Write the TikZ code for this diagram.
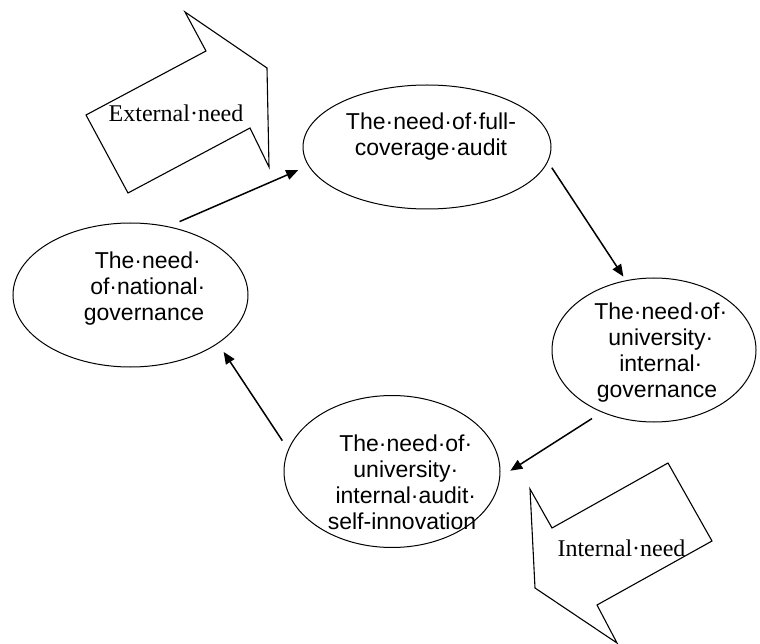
\documentclass[tikz,border=0pt]{standalone}
\usepackage{fontspec}
\setmainfont{Liberation Serif}
\newfontfamily\arialfont{Liberation Sans}
\usetikzlibrary{arrows.meta,shapes.geometric}

% trailing space mark, kept out of the centring
\newcommand{\tdot}{\rlap{·}}

\begin{document}
\begin{tikzpicture}[x=1pt, y=-1pt, >={Triangle[length=12pt,width=10pt]},
    need/.style={ellipse, draw, line width=1pt, inner sep=0pt},
    needtext/.style={align=center, font=\arialfont\fontsize{23}{26}\selectfont},
    flow/.style={->, line width=1.5pt},
    bigarrow/.style={draw, line width=1.1pt, line join=miter},
    bigtext/.style={anchor=base, font=\fontsize{24}{28}\selectfont}]
    \useasboundingbox (0,0) rectangle (760,644);

    % the four needs
    \node [need, minimum width=235pt, minimum height=144pt] (nat) at (130.5, 295) {};
    \node [need, minimum width=248pt, minimum height=124pt] (full) at (427, 147) {};
    \node [need, minimum width=204pt, minimum height=144pt] (univ) at (654, 350) {};
    \node [need, minimum width=216pt, minimum height=152pt] (audit) at (392, 471.5) {};

    \node [needtext] (natText) at (144, 288.7) {The·need\tdot\\of·national\tdot\\governance};
    \node [needtext] (fullText) at (431, 136.7) {The·need·of·full-\\coverage·audit};
    \node [needtext] (univText) at (657, 353) {The·need·of\tdot\\university\tdot\\internal\tdot\\governance};
    \node [needtext] (auditText) at (402, 482) {The·need·of\tdot\\university\tdot\\internal·audit\tdot\\self-innovation};

    % the cycle
    \draw [flow, shorten <=12pt, shorten >=11pt] (nat.61) -- (full.189);
    \draw [flow, shorten <=7pt, shorten >=4.5pt] (full.-7) -- (univ.112);
    \draw [flow, shorten <=11.5pt, shorten >=12pt] (univ.230) -- (audit.-3);
    \draw [flow, shorten <=10.5pt, shorten >=10pt] (audit.168) -- (nat.-29);

    % external and internal push
    \draw [bigarrow] (86,115) -- (206,51) -- (185,12) -- (267,68) -- (269,167) -- (250,128) -- (128,193) -- cycle;
    \node [bigtext] (extText) at (176, 121.7) {External·need};
    \draw [bigarrow] (668,463) -- (712,541) -- (597,605) -- (617,643) -- (535,588) -- (530,489) -- (552,528) -- cycle;
    \node [bigtext] (intText) at (621.5, 556) {Internal·need};
\end{tikzpicture}
\end{document}
